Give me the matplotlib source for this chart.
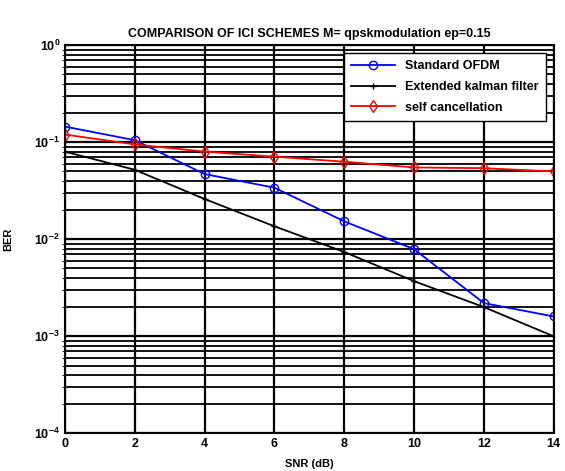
import numpy as np
import matplotlib
matplotlib.use('Agg')
from matplotlib import pyplot as plt
from matplotlib.ticker import LogLocator, NullFormatter

plt.rcParams['font.family'] = ['Liberation Sans', 'DejaVu Sans']
plt.rcParams['font.weight'] = 'bold'

snr = [0, 2, 4, 6, 8, 10, 12, 14]
ber_ofdm = [0.145, 0.105, 0.047, 0.034, 0.0153, 0.0079, 0.0022, 0.0016]
ber_kalman = [0.08, 0.052, 0.026, 0.0136, 0.0074, 0.0037, 0.002, 0.001]
ber_self = [0.12, 0.095, 0.08, 0.071, 0.063, 0.055, 0.054, 0.05]

fig = plt.figure(figsize=(5.65, 4.71), dpi=100)
ax = fig.add_axes([0.115, 0.08, 0.865, 0.824])

ax.semilogy(snr, ber_ofdm, color='blue', marker='o', mfc='none', ms=6, lw=1.3, label='Standard OFDM')
ax.semilogy(snr, ber_kalman, color='black', marker='+', ms=5, lw=1.3, label='Extended kalman filter')
ax.semilogy(snr, ber_self, color='red', marker='d', mfc='none', ms=6, lw=1.3, label='self cancellation')

ax.set_xlim(0, 14)
ax.set_ylim(1e-4, 1)
ax.set_xticks(snr)
ax.yaxis.set_major_locator(LogLocator(base=10, numticks=10))
ax.yaxis.set_minor_locator(LogLocator(base=10, subs=np.arange(2, 10), numticks=10))
ax.yaxis.set_minor_formatter(NullFormatter())
ax.grid(True, which='major', color='black', lw=1.6)
ax.grid(True, which='minor', axis='y', color='black', lw=1.3)
ax.tick_params(labelsize=9, direction='in')
for s in ax.spines.values():
    s.set_linewidth(1.5)

ax.set_title('COMPARISON OF ICI SCHEMES M= qpskmodulation ep=0.15', fontsize=9, fontweight='bold')
ax.set_xlabel('SNR (dB)', fontsize=8, fontweight='bold', labelpad=6)
ax.set_ylabel('BER', fontsize=8, fontweight='bold', labelpad=15)

leg = ax.legend(loc='upper right', fontsize=9, fancybox=False, framealpha=1,
                edgecolor='black', borderaxespad=0.6, handlelength=3.5,
                labelspacing=0.7, borderpad=0.6)
leg.get_frame().set_linewidth(1.0)

fig.savefig('out.png', dpi=100)
